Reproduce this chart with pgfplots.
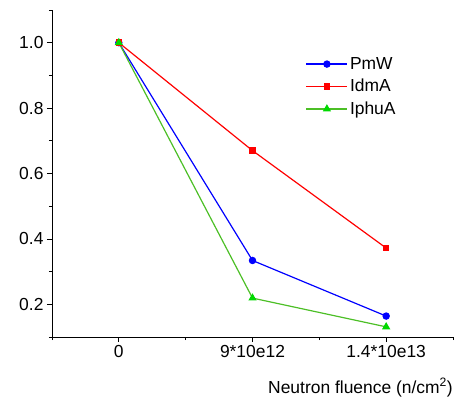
\documentclass[border=0pt]{standalone}
\usepackage{pgfplots}
\pgfplotsset{compat=1.18}
\usepackage{fontspec}
\setmainfont{Liberation Sans}
\definecolor{pblue}{rgb}{0,0,1}
\definecolor{pred}{rgb}{1,0,0}
\definecolor{pgreen}{rgb}{0,0.85,0}
\definecolor{pgline}{rgb}{0.3,0.75,0.15}
\begin{document}
\begin{tikzpicture}
\begin{axis}[
  scale only axis,
  width=401bp, height=327bp,
  xmin=-0.5, xmax=2.5, ymin=0.1, ymax=1.1,
  axis lines=left,
  axis line style={-, line width=1pt},
  tick align=outside,
  xtick={0,1,2},
  xticklabels={0,9*10e12,1.4*10e13},
  minor xtick={-0.5,0.5,1.5,2.5},
  ytick={0.2,0.4,0.6,0.8,1.0},
  minor ytick={0.1,0.3,0.5,0.7,0.9,1.1},
  yticklabel style={/pgf/number format/fixed,/pgf/number format/fixed zerofill,/pgf/number format/precision=1},
  /pgf/number format/assume math mode=true,
  major tick length=5bp, minor tick length=3bp,
  tick style={black, line width=0.8pt},
  ticklabel style={font=\fontsize{17.5}{20}\selectfont},
  xlabel={Neutron fluence (n/cm\textsuperscript{2})},
  xlabel style={font=\fontsize{17.5}{20}\selectfont, at={(rel axis cs:1,0)}, anchor=base east, inner sep=0pt, yshift=-56bp},
  legend style={draw=none, fill=none, at={(rel axis cs:0.625,0.868)}, anchor=north west, font=\fontsize{17.5}{20}\selectfont, row sep=4.5bp, cells={anchor=west}},
  legend image code/.code={\draw[mark repeat=2,mark phase=2] plot coordinates {(0bp,0bp)(20.5bp,0bp)(41bp,0bp)};},
  clip=false,
]
\addplot[pblue, line width=1.2pt, mark=*, mark size=3.1pt, mark options={fill=pblue}] coordinates {(0,1.0) (1,0.334) (2,0.164)};
\addlegendentry{PmW}
\addplot[pred, line width=1.2pt, mark=square*, mark size=2.7pt, mark options={fill=pred}] coordinates {(0,1.0) (1,0.670) (2,0.372)};
\addlegendentry{IdmA}
\addplot[pgline, line width=1.2pt, mark=triangle*, mark size=3.6pt, mark options={fill=pgreen, draw=pgreen}] coordinates {(0,1.0) (1,0.219) (2,0.131)};
\addlegendentry{IphuA}
\path (rel axis cs:1,1) ++(4bp,10bp);
\path (rel axis cs:0,0) ++(-52bp,-66bp);
\end{axis}
\end{tikzpicture}
\end{document}
